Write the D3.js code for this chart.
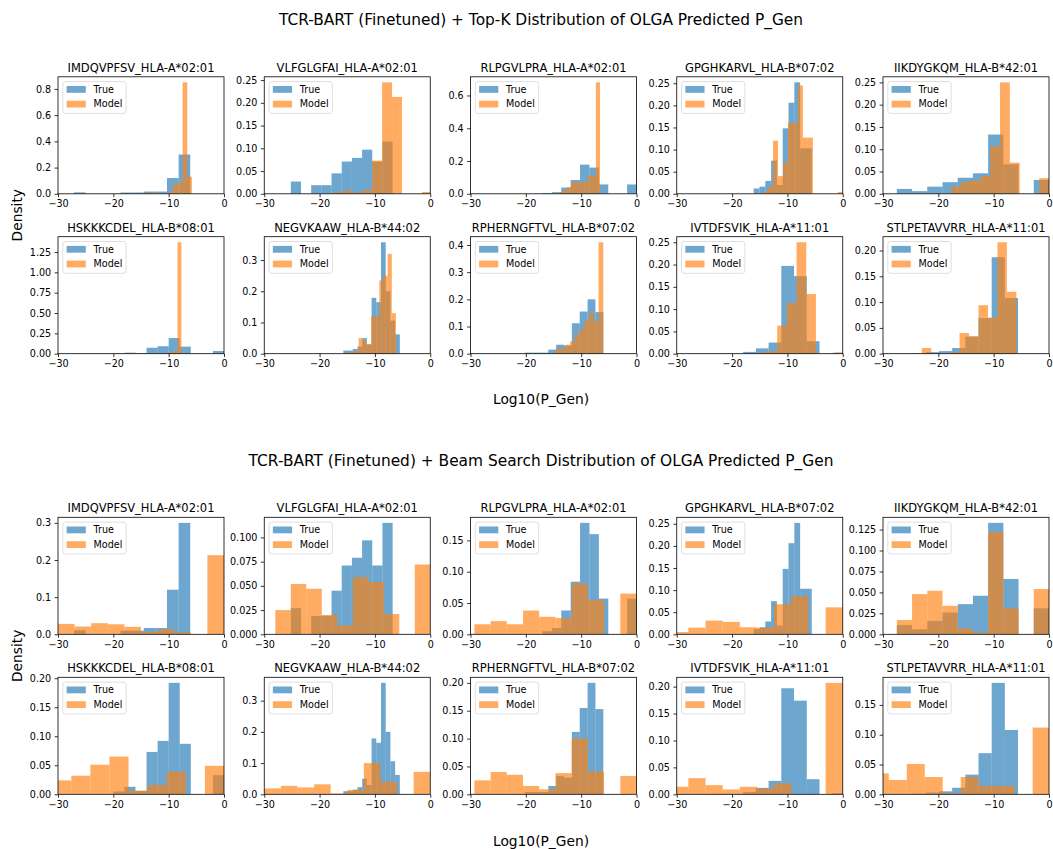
<!DOCTYPE html>
<html>
<head>
<meta charset="utf-8">
<script src="https://cdn.jsdelivr.net/npm/d3@7"></script>
<style>
  body { margin: 0; background: #ffffff; }
  svg { display: block; }
  text { font-family: "DejaVu Sans", "Liberation Sans", sans-serif; fill: #000; }
</style>
</head>
<body>
<svg id="chart" width="1053" height="849"></svg>
<script>
// ---- data ----------------------------------------------------------------
const epitopes = [
  "IMDQVPFSV_HLA-A*02:01", "VLFGLGFAI_HLA-A*02:01", "RLPGVLPRA_HLA-A*02:01",
  "GPGHKARVL_HLA-B*07:02", "IIKDYGKQM_HLA-B*42:01", "HSKKKCDEL_HLA-B*08:01",
  "NEGVKAAW_HLA-B*44:02", "RPHERNGFTVL_HLA-B*07:02", "IVTDFSVIK_HLA-A*11:01",
  "STLPETAVVRR_HLA-A*11:01"
];
const seriesNames = ["True", "Model"];
const sectionTitles = [
  "TCR-BART (Finetuned) + Top-K Distribution of OLGA Predicted P_Gen",
  "TCR-BART (Finetuned) + Beam Search Distribution of OLGA Predicted P_Gen"
];
const xLabel = "Log10(P_Gen)";
const yLabel = "Density";
const xTicks = [-30, -20, -10, 0];

// Each histogram: [first bin edge, bin width, density of each bin]
const trueHist = [
  [-27.1, 2.1,  [0.011, 0, 0, 0, 0.01, 0.01, 0.017, 0.017, 0.12, 0.30]],
  [-25.2, 1.84, [0.027, 0, 0.019, 0.019, 0.045, 0.071, 0.079, 0.097, 0.071, 0.115]],
  [-17.0, 1.7,  [0.005, 0.01, 0.038, 0.084, 0.178, 0.16, 0.057, 0, 0, 0.057]],
  [-16.1, 1.05, [0.012, 0.016, 0.029, 0.075, 0.02, 0.148, 0.206, 0.252, 0.103, 0.103]],
  [-27.5, 2.75, [0.011, 0.006, 0.016, 0.026, 0.036, 0.046, 0.133, 0.066, 0, 0.031]],
  [-20.0, 2.0,  [0.005, 0.013, 0.006, 0.073, 0.092, 0.192, 0.087, 0, 0, 0.033]],
  [-15.7, 0.85, [0.01, 0.01, 0.015, 0.023, 0.05, 0.03, 0.179, 0.165, 0.357, 0.2, 0.106, 0.062]],
  [-20.2, 1.42, [0.004, 0.004, 0.004, 0.015, 0.033, 0.03, 0.112, 0.155, 0.2, 0.153]],
  [-22.6, 2.3,  [0.001, 0, 0.004, 0.012, 0.025, 0.197, 0.174, 0.028, 0, 0.002]],
  [-29.4, 2.38, [0, 0, 0.001, 0.003, 0.005, 0.011, 0.033, 0.069, 0.187, 0.108]]
];
const topKModelHist = [
  [-14.2, 0.84, [0.01, 0, 0.01, 0, 0, 0.02, 0.076, 0.09, 0.85, 0.13]],
  [-17.7, 1.8,  [0.003, 0.007, 0.003, 0.008, 0.073, 0.245, 0.213, 0, 0, 0.004]],
  [-14.1, 0.75, [0.01, 0.02, 0.04, 0.07, 0.07, 0.072, 0.072, 0.11, 0.11, 0.68]],
  [-14.4, 0.9,  [0.005, 0.016, 0.12, 0.04, 0.07, 0.16, 0.16, 0.245, 0.127, 0.127, 0, 0, 0, 0, 0, 0.004]],
  [-17.7, 1.77, [0.016, 0.027, 0.03, 0.04, 0.107, 0.25, 0.07, 0, 0, 0.035]],
  [-14.7, 0.7,  [0.005, 0, 0, 0, 0.005, 0, 0.01, 0.02, 0.03, 1.37]],
  [-15.2, 0.75, [0.005, 0.005, 0.01, 0.05, 0.04, 0.03, 0.12, 0.12, 0.235, 0.25, 0.32, 0.13]],
  [-14.6, 0.86, [0.018, 0.018, 0.033, 0.045, 0.07, 0.09, 0.12, 0.15, 0.12, 0.41]],
  [-15.35, 1.75, [0.003, 0.005, 0.063, 0.114, 0.25, 0.134, 0, 0, 0.003]],
  [-23.0, 1.71, [0.011, 0, 0, 0.003, 0.04, 0.034, 0.094, 0.07, 0.216, 0.12]]
];
const beamModelHist = [
  [-30.0, 3.0,  [0.028, 0.021, 0.03, 0.027, 0.02, 0.006, 0.014, 0.005, 0, 0.213]],
  [-28.0, 2.8,  [0.025, 0.052, 0.047, 0.02, 0.009, 0.059, 0.054, 0.021, 0, 0.072]],
  [-29.3, 2.93, [0.016, 0.021, 0.016, 0.038, 0.028, 0.026, 0.081, 0.055, 0, 0.065]],
  [-31.0, 3.1,  [0.005, 0.015, 0.031, 0.028, 0.016, 0.015, 0.068, 0.086, 0, 0.061]],
  [-27.5, 2.75, [0.017, 0.048, 0.052, 0.034, 0.007, 0.002, 0.122, 0.031, 0, 0.054]],
  [-34.5, 3.45, [0.008, 0.024, 0.032, 0.051, 0.065, 0.006, 0.016, 0.039, 0, 0.049]],
  [-30.0, 3.0,  [0.019, 0.027, 0.022, 0.032, 0.003, 0.014, 0.1, 0.04, 0, 0.072]],
  [-29.3, 2.93, [0.025, 0.04, 0.035, 0.015, 0.009, 0.038, 0.1, 0.041, 0, 0.033]],
  [-31.0, 3.1,  [0.014, 0.03, 0.017, 0.009, 0.014, 0.011, 0.02, 0, 0, 0.207]],
  [-32.2, 3.25, [0.035, 0.024, 0.051, 0.029, 0.002, 0.029, 0.014, 0.014, 0, 0.112]]
];
// y tick spacing per panel (tick labels are 0, step, 2*step, ...)
const topKTickStep = [0.2, 0.05, 0.2, 0.05, 0.05, 0.25, 0.1, 0.1, 0.05, 0.05];
const beamTickStep = [0.1, 0.025, 0.05, 0.05, 0.025, 0.05, 0.1, 0.05, 0.05, 0.05];

// ---- layout ----------------------------------------------------------------
const svg = d3.select("#chart");
const colors = { True: "#1f77b4", Model: "#ff7f0e" };
const barAlpha = 0.65;
const panelW = 166, panelH = 117;
const colLeft = i => 58 + i * 206.25;
const sections = [
  { title: sectionTitles[0], titleY: 24.5, xLabelY: 404, rowTops: [76.8, 236.7], model: topKModelHist, steps: topKTickStep },
  { title: sectionTitles[1], titleY: 465.5, xLabelY: 846, rowTops: [517.3, 677.3], model: beamModelHist, steps: beamTickStep }
];
const centerX = 541;

function toBins(h) {
  const [lo, w, vals] = h;
  return vals.map((v, i) => ({ x0: lo + i * w, x1: lo + (i + 1) * w, v })).filter(d => d.v > 0);
}
function decimals(step) {
  const s = String(step);
  return s.includes(".") ? s.split(".")[1].length : 0;
}

let clipId = 0;
sections.forEach((sec, si) => {
  svg.append("text")
    .attr("x", centerX).attr("y", sec.titleY)
    .attr("text-anchor", "middle").style("font-size", "15.4px")
    .text(sec.title);
  svg.append("text")
    .attr("x", centerX).attr("y", sec.xLabelY)
    .attr("text-anchor", "middle").style("font-size", "13.8px")
    .text(xLabel);
  const midY = (sec.rowTops[0] + sec.rowTops[1] + panelH) / 2;
  svg.append("text")
    .attr("transform", `translate(22,${midY}) rotate(-90)`)
    .attr("text-anchor", "middle").style("font-size", "13.8px")
    .text(yLabel);

  epitopes.forEach((name, pi) => {
    const left = colLeft(pi % 5);
    const top = sec.rowTops[Math.floor(pi / 5)];
    const tBins = toBins(trueHist[pi]);
    const mBins = toBins(sec.model[pi]);
    const ymax = 1.05 * d3.max(tBins.concat(mBins), d => d.v);

    const x = d3.scaleLinear().domain([-30, 0]).range([left, left + panelW]);
    const y = d3.scaleLinear().domain([0, ymax]).range([top + panelH, top]);

    const g = svg.append("g");
    const cid = "clip" + (clipId++);
    g.append("clipPath").attr("id", cid)
      .append("rect").attr("x", left).attr("y", top).attr("width", panelW).attr("height", panelH);

    const plot = g.append("g").attr("clip-path", `url(#${cid})`);
    [[tBins, "True"], [mBins, "Model"]].forEach(([bins, key]) => {
      plot.append("g").selectAll("rect").data(bins).join("rect")
        .attr("x", d => x(d.x0))
        .attr("width", d => x(d.x1) - x(d.x0))
        .attr("y", d => y(d.v))
        .attr("height", d => y(0) - y(d.v))
        .attr("fill", colors[key])
        .attr("fill-opacity", barAlpha);
    });

    // axes
    const step = sec.steps[pi];
    const yTicks = d3.range(0, ymax + 1e-9, step).map(v => +v.toFixed(6));
    const xAxis = d3.axisBottom(x).tickValues(xTicks).tickSize(3.4).tickPadding(3.4).tickSizeOuter(0);
    const yAxis = d3.axisLeft(y).tickValues(yTicks).tickFormat(d3.format(`.${decimals(step)}f`))
      .tickSize(3.4).tickPadding(3.4).tickSizeOuter(0);
    const ax = g.append("g").attr("transform", `translate(0,${top + panelH})`).call(xAxis);
    const ay = g.append("g").attr("transform", `translate(${left},0)`).call(yAxis);
    [ax, ay].forEach(a => {
      a.select(".domain").remove();
      a.selectAll("line").attr("stroke", "#000").attr("stroke-width", 0.8);
      a.selectAll("text").style("font-size", "9.6px").attr("fill", "#000").attr("font-family", null);
    });

    g.append("rect")
      .attr("x", left).attr("y", top).attr("width", panelW).attr("height", panelH)
      .attr("fill", "none").attr("stroke", "#000").attr("stroke-width", 0.8);

    g.append("text")
      .attr("x", left + panelW / 2).attr("y", top - 5)
      .attr("text-anchor", "middle").style("font-size", "11.5px")
      .text(name);

    // legend
    const lg = g.append("g").attr("transform", `translate(${left + 4.8},${top + 4.8})`);
    const frame = lg.append("rect")
      .attr("rx", 2.5).attr("ry", 2.5)
      .attr("height", 31.8)
      .attr("fill", "#fff").attr("fill-opacity", 0.8)
      .attr("stroke", "#cccccc").attr("stroke-opacity", 0.8).attr("stroke-width", 0.8);
    let maxW = 0;
    seriesNames.forEach((s, k) => {
      const cy = 7.8 + k * 14.7;
      lg.append("rect")
        .attr("x", 3.8).attr("y", cy - 3.4).attr("width", 19.2).attr("height", 6.8)
        .attr("fill", colors[s]).attr("fill-opacity", barAlpha);
      const t = lg.append("text")
        .attr("x", 3.8 + 19.2 + 7.7).attr("y", cy).attr("dy", "0.35em")
        .style("font-size", "9.6px").text(s);
      maxW = Math.max(maxW, t.node().getComputedTextLength());
    });
    frame.attr("width", 3.8 + 19.2 + 7.7 + maxW + 3.8);
  });
});
</script>
</body>
</html>
